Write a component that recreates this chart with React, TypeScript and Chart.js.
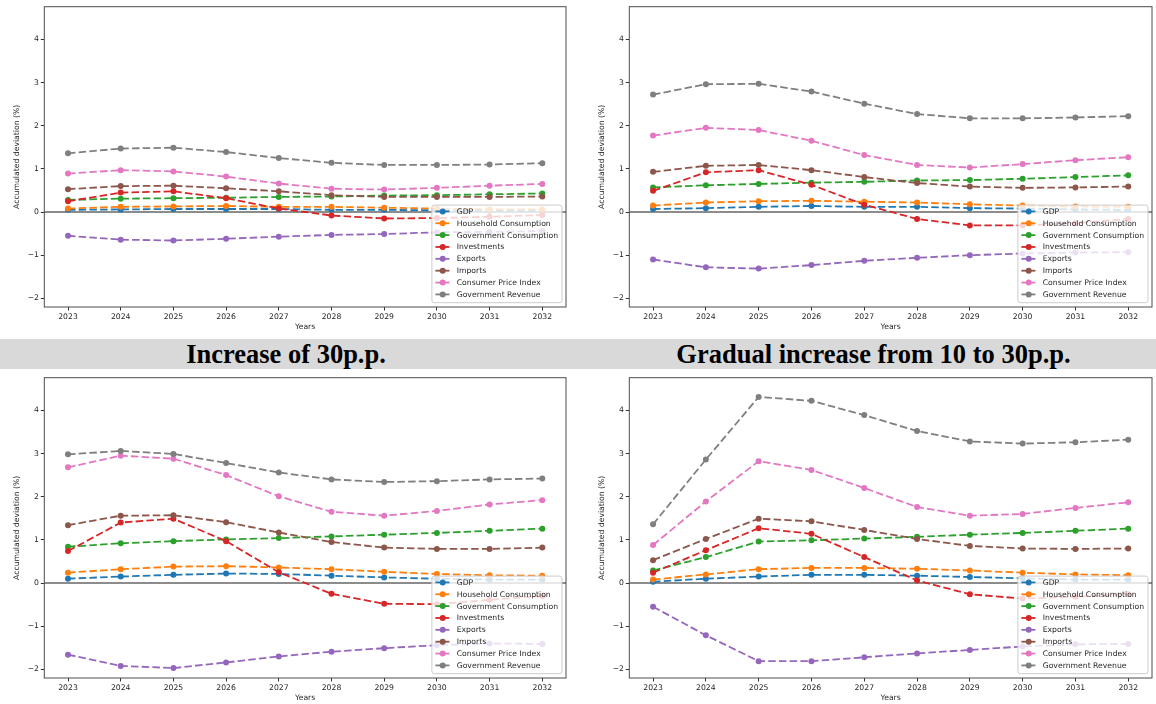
import React, { useEffect, useRef } from 'react';
import { Chart, registerables } from 'chart.js';

Chart.register(...registerables);

// ---------- data ----------
const years = [2023, 2024, 2025, 2026, 2027, 2028, 2029, 2030, 2031, 2032];

const seriesNames = [
  'GDP',
  'Household Consumption',
  'Government Consumption',
  'Investments',
  'Exports',
  'Imports',
  'Consumer Price Index',
  'Government Revenue',
];
const seriesColors = ['#1f77b4', '#ff7f0e', '#2ca02c', '#d62728', '#9467bd', '#8c564b', '#e377c2', '#7f7f7f'];

const bandTitles = ['Increase of 30p.p.', 'Gradual increase from 10 to 30p.p.'];
const xAxisTitle = 'Years';
const yAxisTitle = 'Accumulated deviation (%)';

// top-left panel
const tlGdp = [0.05, 0.06, 0.07, 0.07, 0.07, 0.05, 0.05, 0.04, 0.03, 0.03];
const tlHousehold = [0.08, 0.12, 0.13, 0.14, 0.12, 0.12, 0.10, 0.08, 0.06, 0.06];
const tlGovCons = [0.28, 0.31, 0.32, 0.33, 0.35, 0.36, 0.38, 0.39, 0.41, 0.43];
const tlInvest = [0.25, 0.45, 0.48, 0.32, 0.08, -0.08, -0.15, -0.14, -0.11, -0.07];
const tlExports = [-0.55, -0.64, -0.66, -0.62, -0.57, -0.53, -0.51, -0.47, -0.46, -0.44];
const tlImports = [0.53, 0.60, 0.61, 0.55, 0.48, 0.39, 0.35, 0.35, 0.35, 0.36];
const tlCpi = [0.89, 0.97, 0.94, 0.82, 0.66, 0.54, 0.52, 0.56, 0.61, 0.65];
const tlRevenue = [1.36, 1.47, 1.49, 1.39, 1.25, 1.14, 1.09, 1.09, 1.10, 1.13];

// top-right panel
const trGdp = [0.07, 0.09, 0.12, 0.14, 0.12, 0.12, 0.09, 0.08, 0.06, 0.05];
const trHousehold = [0.15, 0.22, 0.25, 0.26, 0.24, 0.22, 0.18, 0.15, 0.13, 0.12];
const trGovCons = [0.57, 0.62, 0.65, 0.68, 0.70, 0.73, 0.74, 0.77, 0.81, 0.85];
const trInvest = [0.49, 0.92, 0.97, 0.63, 0.17, -0.16, -0.31, -0.31, -0.26, -0.16];
const trExports = [-1.10, -1.28, -1.31, -1.23, -1.13, -1.06, -1.00, -0.96, -0.94, -0.93];
const trImports = [0.93, 1.07, 1.09, 0.97, 0.81, 0.67, 0.59, 0.56, 0.57, 0.59];
const trCpi = [1.77, 1.95, 1.90, 1.65, 1.32, 1.09, 1.03, 1.11, 1.20, 1.27];
const trRevenue = [2.72, 2.96, 2.97, 2.79, 2.51, 2.27, 2.17, 2.17, 2.19, 2.22];

// bottom-left panel: Increase of 30p.p.
const blGdp = [0.10, 0.15, 0.19, 0.22, 0.21, 0.17, 0.13, 0.10, 0.08, 0.08];
const blHousehold = [0.24, 0.32, 0.38, 0.39, 0.36, 0.32, 0.26, 0.21, 0.18, 0.17];
const blGovCons = [0.84, 0.92, 0.97, 1.01, 1.04, 1.08, 1.12, 1.16, 1.21, 1.26];
const blInvest = [0.74, 1.40, 1.49, 0.97, 0.25, -0.25, -0.48, -0.49, -0.39, -0.30];
const blExports = [-1.66, -1.92, -1.97, -1.84, -1.70, -1.59, -1.51, -1.44, -1.40, -1.41];
const blImports = [1.34, 1.56, 1.57, 1.41, 1.17, 0.95, 0.82, 0.79, 0.79, 0.82];
const blCpi = [2.68, 2.95, 2.88, 2.50, 2.01, 1.65, 1.56, 1.67, 1.82, 1.92];
const blRevenue = [2.98, 3.06, 2.99, 2.78, 2.56, 2.40, 2.34, 2.36, 2.40, 2.42];

// bottom-right panel: Gradual increase from 10 to 30p.p.
const brGdp = [0.03, 0.10, 0.15, 0.19, 0.19, 0.17, 0.14, 0.11, 0.08, 0.08];
const brHousehold = [0.08, 0.20, 0.32, 0.35, 0.35, 0.33, 0.29, 0.24, 0.20, 0.18];
const brGovCons = [0.29, 0.60, 0.96, 0.99, 1.03, 1.07, 1.12, 1.16, 1.21, 1.26];
const brInvest = [0.24, 0.76, 1.27, 1.14, 0.60, 0.06, -0.26, -0.36, -0.32, -0.26];
const brExports = [-0.55, -1.21, -1.81, -1.81, -1.72, -1.63, -1.55, -1.47, -1.42, -1.41];
const brImports = [0.53, 1.02, 1.49, 1.43, 1.23, 1.02, 0.86, 0.80, 0.79, 0.80];
const brCpi = [0.88, 1.89, 2.82, 2.62, 2.20, 1.76, 1.56, 1.60, 1.74, 1.87];
const brRevenue = [1.36, 2.86, 4.31, 4.22, 3.89, 3.52, 3.28, 3.23, 3.26, 3.32];

const tlSeries = [tlGdp, tlHousehold, tlGovCons, tlInvest, tlExports, tlImports, tlCpi, tlRevenue];
const trSeries = [trGdp, trHousehold, trGovCons, trInvest, trExports, trImports, trCpi, trRevenue];
const blSeries = [blGdp, blHousehold, blGovCons, blInvest, blExports, blImports, blCpi, blRevenue];
const brSeries = [brGdp, brHousehold, brGovCons, brInvest, brExports, brImports, brCpi, brRevenue];

// axis limits (shared)
const xMin = 2022.55;
const xMax = 2032.45;
const yMin = -2.2;
const yMax = 4.756;

// ---------- styling ----------
const FONT = "'DejaVu Sans', sans-serif";
const FS = 7.7;
const TEXT_COLOR = '#262626';

const fmtTick = (v: number) => (v < 0 ? '\u2212' + Math.abs(v) : String(v));

const decorPlugin = {
  id: 'mplDecor',
  beforeDatasetsDraw(chart: any) {
    const { ctx, chartArea: a, scales } = chart;
    const y0 = scales.y.getPixelForValue(0);
    ctx.save();
    ctx.strokeStyle = '#1a1a1a';
    ctx.lineWidth = 1.1;
    ctx.beginPath();
    ctx.moveTo(a.left, y0);
    ctx.lineTo(a.right, y0);
    ctx.stroke();
    ctx.restore();
  },
  afterDatasetsDraw(chart: any) {
    const { ctx, chartArea: a } = chart;
    ctx.save();
    ctx.strokeStyle = '#4d4d4d';
    ctx.lineWidth = 1;
    ctx.strokeRect(a.left, a.top, a.right - a.left, a.bottom - a.top);
    ctx.restore();
  },
  afterDraw(chart: any) {
    const { ctx, chartArea: a } = chart;
    const ds = chart.data.datasets;
    ctx.save();
    ctx.font = `${FS}px ${FONT}`;
    let maxW = 0;
    ds.forEach((d: any) => {
      maxW = Math.max(maxW, ctx.measureText(d.label).width);
    });
    const rowH = 11.86;
    const boxW = 3.5 + 14 + 7.3 + maxW + 4;
    const boxH = 97.6;
    const right = a.right - 4;
    const bottom = a.bottom - 4.3;
    const left = right - boxW;
    const top = bottom - boxH;
    ctx.beginPath();
    const r = 2.5;
    ctx.moveTo(left + r, top);
    ctx.lineTo(right - r, top);
    ctx.quadraticCurveTo(right, top, right, top + r);
    ctx.lineTo(right, bottom - r);
    ctx.quadraticCurveTo(right, bottom, right - r, bottom);
    ctx.lineTo(left + r, bottom);
    ctx.quadraticCurveTo(left, bottom, left, bottom - r);
    ctx.lineTo(left, top + r);
    ctx.quadraticCurveTo(left, top, left + r, top);
    ctx.closePath();
    ctx.fillStyle = 'rgba(255,255,255,0.8)';
    ctx.fill();
    ctx.strokeStyle = '#cccccc';
    ctx.lineWidth = 1;
    ctx.stroke();
    ds.forEach((d: any, i: number) => {
      const cy = top + 6.3 + i * rowH;
      ctx.strokeStyle = d.borderColor;
      ctx.lineWidth = 1.8;
      ctx.beginPath();
      ctx.moveTo(left + 3.5, cy);
      ctx.lineTo(left + 17.5, cy);
      ctx.stroke();
      ctx.fillStyle = d.borderColor;
      ctx.beginPath();
      ctx.arc(left + 10.8, cy, 3, 0, Math.PI * 2);
      ctx.fill();
      ctx.fillStyle = TEXT_COLOR;
      ctx.textBaseline = 'middle';
      ctx.textAlign = 'left';
      ctx.fillText(d.label, left + 24.8, cy + 0.5);
    });
    ctx.restore();
  },
};

type PanelProps = {
  left: number;
  top: number;
  width: number;
  height: number;
  areaRight: number;
  series: number[][];
};

function Panel({ left, top, width, height, areaRight, series }: PanelProps) {
  const ref = useRef<HTMLCanvasElement | null>(null);
  useEffect(() => {
    if (!ref.current) return;
    const n = series.length;
    const chart = new Chart(ref.current, {
      type: 'line',
      data: {
        datasets: series.map((vals, i) => ({
          label: seriesNames[i],
          data: years.map((yr, j) => ({ x: yr, y: vals[j] })),
          borderColor: seriesColors[i],
          backgroundColor: seriesColors[i],
          borderWidth: 1.8,
          borderDash: [7.5, 3.2],
          pointRadius: 3,
          pointBorderWidth: 0,
          pointBackgroundColor: seriesColors[i],
          tension: 0,
          fill: false,
          order: n - 1 - i,
        })),
      },
      options: {
        responsive: false,
        animation: false,
        devicePixelRatio: 1,
        layout: { padding: { top: 6.7, left: 0, right: width - areaRight, bottom: 0 } },
        plugins: { legend: { display: false }, tooltip: { enabled: false }, title: { display: false } },
        scales: {
          x: {
            type: 'linear',
            min: xMin,
            max: xMax,
            afterFit: (s: any) => {
              s.height = 31;
            },
            border: { display: false },
            grid: { drawOnChartArea: false, drawTicks: true, tickLength: 3.5, color: '#333' },
            ticks: {
              stepSize: 1,
              includeBounds: false,
              autoSkip: false,
              maxRotation: 0,
              padding: 1.5,
              color: TEXT_COLOR,
              font: { family: FONT, size: FS },
              callback: (v: any) => String(v),
            },
            title: {
              display: true,
              text: xAxisTitle,
              color: TEXT_COLOR,
              font: { family: FONT, size: FS },
              padding: { top: 0, bottom: 6.4 },
            },
          },
          y: {
            type: 'linear',
            min: yMin,
            max: yMax,
            afterFit: (s: any) => {
              s.width = 44.3;
            },
            border: { display: false },
            grid: { drawOnChartArea: false, drawTicks: true, tickLength: 3.5, color: '#333' },
            ticks: {
              stepSize: 1,
              includeBounds: false,
              padding: 1.8,
              color: TEXT_COLOR,
              font: { family: FONT, size: FS },
              callback: (v: any) => fmtTick(Number(v)),
            },
            title: {
              display: true,
              text: yAxisTitle,
              color: TEXT_COLOR,
              font: { family: FONT, size: FS },
              padding: { top: 12.8, bottom: 0 },
            },
          },
        },
      } as any,
      plugins: [decorPlugin],
    });
    return () => chart.destroy();
  }, [series, width, height, areaRight]);
  return (
    <canvas
      ref={ref}
      width={width}
      height={height}
      style={{ position: 'absolute', left, top, width, height }}
    />
  );
}

const bandText: React.CSSProperties = {
  position: 'absolute',
  top: 0,
  height: 30,
  lineHeight: '30px',
  fontFamily: "'Liberation Serif', 'Times New Roman', serif",
  fontWeight: 'bold',
  fontSize: 26.5,
  color: '#000',
  textAlign: 'center',
  whiteSpace: 'nowrap',
};

export default function App() {
  return (
    <div
      style={{
        position: 'absolute',
        left: 0,
        top: 0,
        width: 1156,
        height: 704,
        overflow: 'hidden',
        background: '#fff',
      }}
    >
      <Panel left={0} top={0} width={578} height={338} areaRight={566} series={tlSeries} />
      <Panel left={585} top={0} width={571} height={338} areaRight={570} series={trSeries} />
      <div style={{ position: 'absolute', left: 0, top: 339.3, width: 1156, height: 30, background: '#d9d9d9' }}>
        <div style={{ ...bandText, left: 0, width: 572 }}>{bandTitles[0]}</div>
        <div style={{ ...bandText, left: 578, width: 591 }}>{bandTitles[1]}</div>
      </div>
      <Panel left={0} top={371} width={578} height={338} areaRight={566} series={blSeries} />
      <Panel left={585} top={371} width={571} height={338} areaRight={570} series={brSeries} />
    </div>
  );
}
